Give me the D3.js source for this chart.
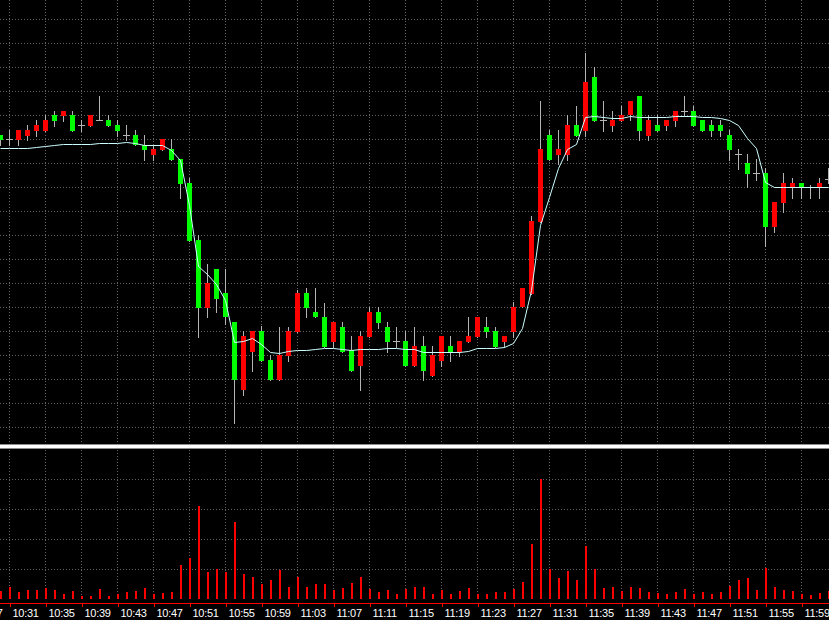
<!DOCTYPE html>
<html><head><meta charset="utf-8">
<script src="https://cdn.jsdelivr.net/npm/d3@7/dist/d3.min.js"></script>
<style>html,body{margin:0;padding:0;background:#000;overflow:hidden}svg{display:block}</style>
</head><body><svg id="c" width="829" height="620"></svg>
<script>
// ---- data (prices in points) ----
const times = ["10:30","10:31","10:32","10:33","10:34","10:35","10:36","10:37","10:38","10:39",
"10:40","10:41","10:42","10:43","10:44","10:45","10:46","10:47","10:48","10:49",
"10:50","10:51","10:52","10:53","10:54","10:55","10:56","10:57","10:58","10:59",
"11:00","11:01","11:02","11:03","11:04","11:05","11:06","11:07","11:08","11:09",
"11:10","11:11","11:12","11:13","11:14","11:15","11:16","11:17","11:18","11:19",
"11:20","11:21","11:22","11:23","11:24","11:25","11:26","11:27","11:28","11:29",
"11:30","11:31","11:32","11:33","11:34","11:35","11:36","11:37","11:38","11:39",
"11:40","11:41","11:42","11:43","11:44","11:45","11:46","11:47","11:48","11:49",
"11:50","11:51","11:52","11:53","11:54","11:55","11:56","11:57","11:58","11:59",
"12:00","12:01","12:02"];
const open = [305,301,300,304,309,309,325,324,325,315,
314,320,320,315,305,305,295,285,290,291,
281,257,200,132,171,147,118,50,88,109,
80,60,84,108,147,128,123,98,113,90,
74,103,128,113,99,99,74,94,64,79,
94,88,98,103,113,109,98,108,133,146,
218,305,285,285,315,309,363,320,314,319,
325,344,304,315,314,319,329,329,320,315,
315,305,286,277,267,267,213,237,253,257,
253,253,261];
const high = [305,310,310,315,320,325,329,329,329,320,
325,344,325,320,315,310,305,295,301,301,
281,262,205,176,171,171,118,109,109,114,
85,113,113,150,152,152,137,118,118,104,
109,133,133,118,113,109,113,104,94,104,
104,99,123,123,123,113,104,138,152,224,
339,310,310,325,334,387,373,339,329,334,
339,344,325,325,320,329,344,334,320,320,
320,310,291,286,281,272,238,267,262,257,
255,262,272];
const low = [295,295,295,300,304,309,314,319,309,309,
314,320,314,304,300,295,280,280,290,280,
242,199,103,123,128,116,17,45,69,79,
60,60,79,108,123,123,93,93,88,69,
50,103,112,88,93,74,74,60,64,74,
79,84,98,103,103,93,93,103,133,146,
218,280,276,280,304,304,319,309,309,319,
320,300,300,309,310,314,324,314,309,304,
304,280,271,253,260,194,208,228,242,242,
242,242,257];
const close = [300,301,310,310,315,320,319,329,309,315,
325,320,314,309,305,295,290,291,301,280,
256,199,132,157,141,123,60,104,109,79,
60,85,109,147,132,123,93,118,88,69,
104,128,117,98,99,74,94,69,85,104,
88,99,104,123,108,93,104,133,152,219,
291,280,291,315,304,358,319,320,320,325,
339,309,320,309,320,329,329,314,309,309,
309,290,286,266,267,213,238,257,257,253,
253,257,261];
const ma = [292,292,292,292,293,294,295,296,296,296,
296,297,297,297,298,297,295,295,295,290,
280,235,174,166,156,140,98,99,102,96,
88,87,89,90,90,91,92,92,91,90,
91,91,91,92,92,91,91,88,88,88,
88,88,89,92,92,92,93,97,112,150,
215,243,272,291,296,323,324,323,322,322,
324,323,323,323,323,324,324,324,323,323,
322,320,315,302,292,258,253,253,253,253,
253,253,253];
const volume = [8,12,7,9,9,11,9,5,8,3,
3,10,3,5,7,8,11,5,6,7,
34,41,93,27,30,27,77,25,22,15,
19,29,12,22,12,15,15,9,11,16,
22,10,7,9,5,10,12,12,5,9,
5,8,11,5,5,7,7,10,17,55,
120,30,21,28,19,53,30,11,12,8,
12,11,7,6,5,7,10,5,7,5,
7,13,19,21,9,31,12,9,8,5,
4,6,8];
const tickLabels = ["10:27","10:31","10:35","10:39","10:43","10:47","10:51","10:55","10:59",
"11:03","11:07","11:11","11:15","11:19","11:23","11:27","11:31","11:35","11:39","11:43",
"11:47","11:51","11:55","11:59"];
const priceGrid = [13,37,61,85,109,133,157,181,205,229,253,277,301,325,349,373,397,421];
const volumeGrid = [30,60,90,120];

// ---- build ----
const W = 829, H = 620;
const parse = s => { const [h,m] = s.split(":").map(Number); return new Date(2000,0,1,h,m); };
const t = times.map(parse);
const bars = t.map((d,i) => ({t:d, o:open[i], h:high[i], l:low[i], c:close[i], ma:ma[i], v:volume[i]}));

const x = d3.scaleTime().domain([parse("10:30"), parse("12:02")]).range([0, 828]);
const y = d3.scaleLinear().domain([0, 440]).range([440, 0]);
const yv = d3.scaleLinear().domain([0, 150]).range([599, 449]);

const svg = d3.select("#c");
svg.append("rect").attr("width", W).attr("height", H).attr("fill", "#000");

const gridColor = "#626262";
const tickTimes = tickLabels.map(parse);

// vertical grid
const gv = svg.append("g").attr("stroke", gridColor).attr("stroke-dasharray", "1,2").attr("shape-rendering","crispEdges");
tickTimes.forEach(d => {
  const xx = Math.round(x(d)) + 0.5;
  gv.append("line").attr("x1", xx).attr("x2", xx).attr("y1", 0).attr("y2", 443);
  gv.append("line").attr("x1", xx).attr("x2", xx).attr("y1", 450).attr("y2", 600);
});
// horizontal price grid
priceGrid.forEach(p => {
  const yy = Math.round(y(p)) + 0.5;
  gv.append("line").attr("x1", 0).attr("x2", W).attr("y1", yy).attr("y2", yy);
});
volumeGrid.forEach(v => {
  const yy = Math.round(yv(v)) + 0.5;
  gv.append("line").attr("x1", 0).attr("x2", W).attr("y1", yy).attr("y2", yy);
});

// candles
const gc = svg.append("g").attr("shape-rendering","crispEdges");
bars.forEach(b => {
  const xc = Math.round(x(b.t));
  gc.append("line").attr("x1", xc + 0.5).attr("x2", xc + 0.5)
    .attr("y1", y(b.h)).attr("y2", y(b.l) + 1).attr("stroke", "#b4b4b4").attr("stroke-width", 1);
  if (b.o === b.c) {
    gc.append("line").attr("x1", xc - 3).attr("x2", xc + 4)
      .attr("y1", y(b.o) + 0.5).attr("y2", y(b.o) + 0.5).attr("stroke", "#b4b4b4");
  } else {
    const top = y(Math.max(b.o, b.c)), bot = y(Math.min(b.o, b.c));
    gc.append("rect").attr("x", xc - 2).attr("width", 5)
      .attr("y", top).attr("height", Math.max(1, bot - top))
      .attr("fill", b.c > b.o ? "#ff0000" : "#00ff00");
  }
});

// moving average line
const line = d3.line().x(d => Math.round(x(d.t)) + 0.5).y(d => y(d.ma) + 0.5);
svg.append("path").datum(bars).attr("d", line)
  .attr("fill", "none").attr("stroke", "#ccffff").attr("stroke-width", 1);

// separator between panels
svg.append("rect").attr("x", 0).attr("y", 445).attr("width", W).attr("height", 3).attr("fill", "#ffffff");
svg.append("rect").attr("x", 0).attr("y", 448).attr("width", W).attr("height", 1).attr("fill", "#8c8c8c");
svg.append("rect").attr("x", 0).attr("y", 444).attr("width", W).attr("height", 1).attr("fill", "#8c8c8c");

// volume bars
svg.append("g").attr("shape-rendering","crispEdges").selectAll("rect").data(bars).join("rect")
  .attr("x", d => Math.round(x(d.t)))
  .attr("width", 2)
  .attr("y", d => yv(d.v))
  .attr("height", d => yv(0) - yv(d.v))
  .attr("fill", "#ff0000");

// time axis
const axis = d3.axisBottom(x).tickValues(tickTimes).tickSize(4).tickFormat(d3.timeFormat("%H:%M"));
const ga = svg.append("g").attr("transform", "translate(0,603)").call(axis);
ga.select(".domain").remove();
ga.selectAll(".tick line").attr("stroke", "#ff0000").attr("shape-rendering","crispEdges").attr("transform","translate(0.5,0)");
ga.selectAll(".tick text").attr("fill", "#ffffff").attr("text-anchor", "start").attr("x", 3).attr("y", 6)
  .style("font-family", "'Liberation Sans', Arial, sans-serif").style("font-size", "11px").style("letter-spacing", "-0.3px");
svg.append("line").attr("x1", 0).attr("x2", W).attr("y1", 603.5).attr("y2", 603.5)
  .attr("stroke", "#ff0000").attr("shape-rendering","crispEdges");
</script>
</body></html>
